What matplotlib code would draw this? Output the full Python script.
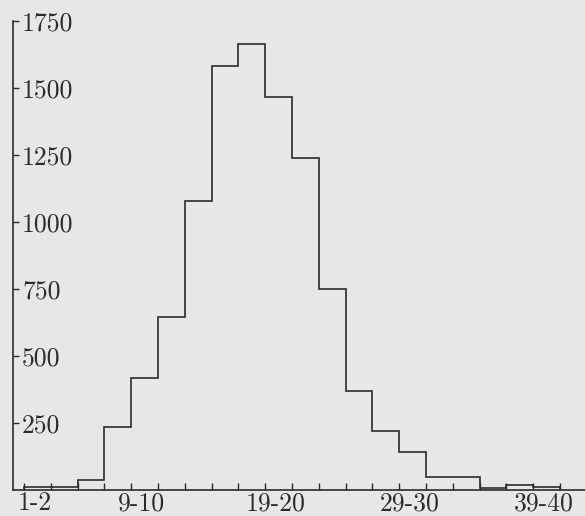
import numpy as np
import matplotlib.pyplot as plt
from matplotlib.ticker import FixedLocator, NullFormatter

# class labels (pairs of values) and counts per class
classes = ['1-2', '3-4', '5-6', '7-8', '9-10', '11-12', '13-14', '15-16', '17-18', '19-20',
           '21-22', '23-24', '25-26', '27-28', '29-30', '31-32', '33-34', '35-36', '37-38', '39-40']
counts = [10, 10, 37, 236, 419, 646, 1078, 1582, 1663, 1467,
          1238, 750, 370, 220, 141, 50, 50, 6, 19, 12]
shown_labels = ['1-2', '9-10', '19-20', '29-30', '39-40']
y_ticks = [250, 500, 750, 1000, 1250, 1500, 1750]

paper = '#e7e7e5'
ink = '#2b2b2d'

plt.rcParams['font.family'] = ['cmr10', 'DejaVu Serif']
plt.rcParams['axes.unicode_minus'] = False

fig = plt.figure(figsize=(5.85, 5.16), dpi=100, facecolor=paper)
ax = fig.add_axes([13 / 585, 1 - 490 / 516, 1 - 13 / 585, (490 - 21) / 516])
ax.set_facecolor(paper)

edges = np.arange(len(counts) + 1)
ax.stairs(counts, edges, color=ink, linewidth=1.2)

ax.set_xlim(-0.41, 20.93)
ax.set_ylim(0, 1750)

for s in ['top', 'right']:
    ax.spines[s].set_visible(False)
for s in ['left', 'bottom']:
    ax.spines[s].set_color(ink)
    ax.spines[s].set_linewidth(1.2)

# x: ticks at class boundaries, labels at class centres
ax.xaxis.set_major_locator(FixedLocator(list(range(0, 22))))
ax.xaxis.set_major_formatter(NullFormatter())
centres = [classes.index(c) + 0.4 for c in shown_labels]
ax.xaxis.set_minor_locator(FixedLocator(centres))
ax.set_xticklabels(shown_labels, minor=True)
ax.tick_params(axis='x', which='major', direction='in', length=5, width=1, color=ink)
ax.tick_params(axis='x', which='minor', length=0, pad=1, labelsize=18.5, labelcolor=ink)

# y: ticks pointing inward, labels inside the axes
ax.set_yticks(y_ticks)
ax.set_yticklabels([str(v) for v in y_ticks])
ax.tick_params(axis='y', direction='in', length=4, width=1, color=ink,
               pad=-6.5, labelsize=18.5, labelcolor=ink)
for lab in ax.get_yticklabels():
    lab.set_horizontalalignment('left')

fig.savefig('out.png', dpi=100, facecolor=paper)
